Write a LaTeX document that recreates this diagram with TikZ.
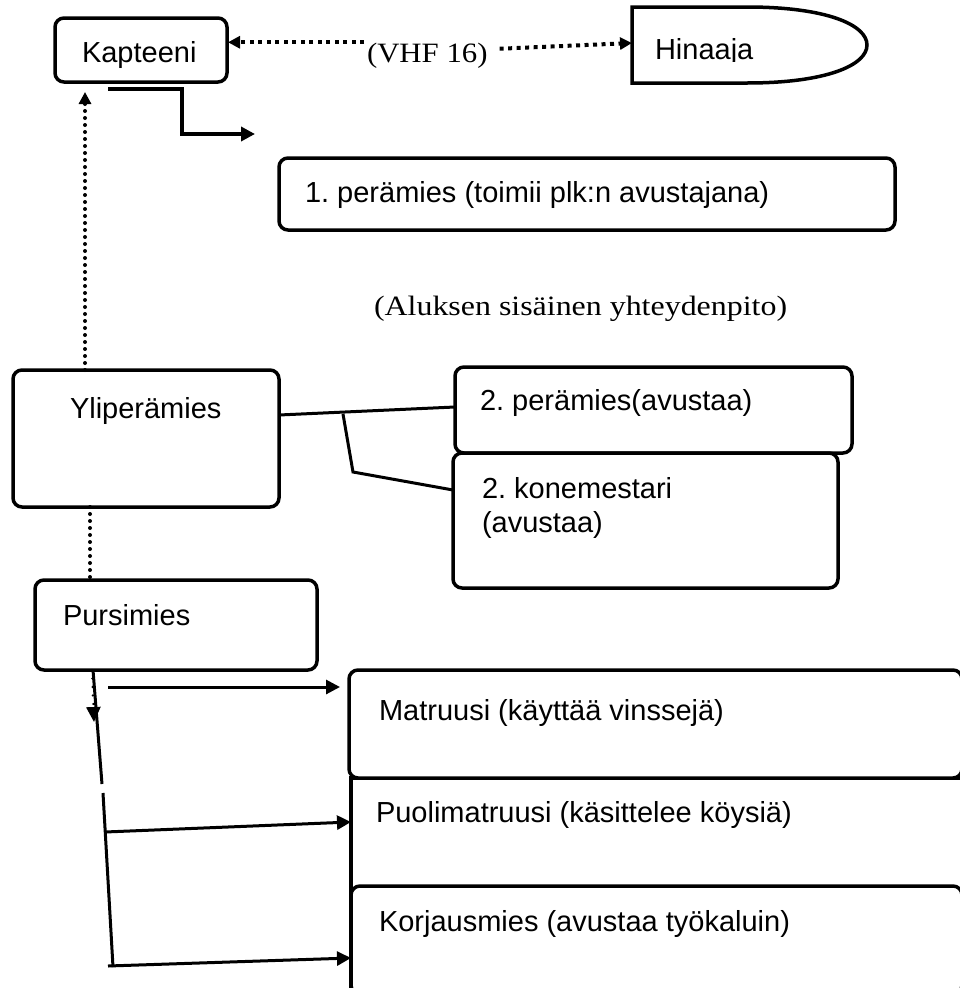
\documentclass[tikz,border=0pt]{standalone}
\usepackage{fontspec}
\setmainfont{Liberation Sans}
\newfontfamily\timesf{Liberation Serif}
\usetikzlibrary{arrows.meta}
\begin{document}
\frenchspacing
\begin{tikzpicture}[x=1pt,y=-1pt,
 every node/.style={inner sep=0pt, outer sep=0pt, font=\fontsize{29}{34}\selectfont},
 box/.style={draw, line width=3.5pt, rounded corners=9pt, fill=white, anchor=north west},
 sqbox/.style={draw, line width=3.5pt, fill=white, anchor=north west},
 txt/.style={anchor=base west},
 serif/.style={anchor=base west, font=\timesf\fontsize{28}{33}\selectfont},
 conn/.style={line width=3pt},
 arr/.style={-{Triangle[length=14pt,width=14pt]}},
 arrs/.style={-{Triangle[length=12pt,width=12pt]}},
 hdot/.style={line width=4pt, dash pattern=on 4pt off 4.5pt},
 vdot/.style={line width=4pt, line cap=round, dash pattern=on 0pt off 7pt},
]
\useasboundingbox (0,0) rectangle (960,988);

% ---- top row
\node[box, minimum width=172pt, minimum height=64pt] (kap) at (55,18) {};
\node[txt] (kapT) at (82,62) {Kapteeni};

\draw[line width=3.5pt] (632,7) -- (747,7) .. controls (827,7) and (867,25) .. (867,45)
  .. controls (867,65) and (827,83) .. (747,83) -- (632,83) -- cycle;
\coordinate (hinL) at (632,43);
\begin{scope}
\clip (632,7) rectangle (870,61);
\node[txt] (hin) at (655,59) {Hinaaja};
\end{scope}

\node[serif] (vhf) at (367,62) {\scalebox{1.1}[1]{(VHF 16)}};
\coordinate (v1) at ([yshift=13pt]vhf.west);
\coordinate (v2) at ([yshift=6pt]vhf.east);
\draw[hdot, arrs, shorten <=3pt, shorten >=1pt] (v1) -- (v1 -| kap.east);
\draw[hdot, arrs, shorten <=12pt] (v2) -- (hinL);

% elbow arrow below Kapteeni
\coordinate (e1) at (108,89);
\coordinate (e2) at (255,134);
\draw[line width=3.5pt, arr] (e1) -- ++(74,0) |- (e2);

% 1. peramies
\node[box, minimum width=616pt, minimum height=72pt] (p1) at (279,158) {};
\node[txt] (p1T) at (305,202) {1. perämies (toimii plk:n avustajana)};

\node[serif] (alu) at (374,315) {\scalebox{1.14}[1]{(Aluksen sisäinen yhteydenpito)}};

% Yliperamies group
\node[box, minimum width=266pt, minimum height=137pt] (yli) at (13,370) {};
\node[txt] (yliT) at (70,418) {Yliperämies};

\coordinate (kapB) at (85,82);
\draw[vdot, arrs, shorten >=10pt] (yli.north -| kapB) -- (kapB);

\node[box, minimum width=397pt, minimum height=86pt] (p2) at (455,367) {};
\node[txt] (p2T) at (480,410) {2. perämies(avustaa)};
\node[box, minimum width=385pt, minimum height=135pt] (kone) at (453,453) {};
\node[anchor=north west, align=left] (koneT) at (482,477) {2. konemestari\\(avustaa)};

\draw[conn] ([yshift=23.5pt]yli.east) -- ([yshift=3pt]p2.west);
\coordinate (b0) at (343,414);
\draw[conn] (b0) -- (353,472) -- ([yshift=30.5pt]kone.west);

% Pursimies
\node[box, minimum width=282pt, minimum height=90pt] (purs) at (35,580) {};
\node[txt] (pursT) at (63,625) {Pursimies};
\coordinate (dx) at (90,0);
\draw[vdot] (yli.south -| dx) -- (purs.north -| dx);

% bottom boxes
\node[sqbox, minimum width=620pt, minimum height=222pt] (puo) at (351,778) {};
\node[box, minimum width=613pt, minimum height=108pt] (mat) at (349,670) {};
\node[box, minimum width=611pt, minimum height=108pt] (kor) at (351,886) {};
\node[txt] (matT) at (379,720) {Matruusi (käyttää vinssejä)};
\node[txt] (puoT) at (376,822) {Puolimatruusi (käsittelee köysiä)};
\node[txt] (korT) at (379,931) {Korjausmies (avustaa työkaluin)};

% Pursimies connectors
\coordinate (dA) at (94,722);
\coordinate (sx) at (92,0);
\draw[line width=2.5pt, line cap=round, dash pattern=on 0pt off 8.5pt,
      -{Triangle[length=15pt,width=14pt]}] (purs.south -| sx) -- (dA);
\coordinate (s0) at (93,0);
\coordinate (s1) at (102,784);
\coordinate (s2) at (103,793);
\coordinate (s3) at (113,967);
\draw[conn] (purs.south -| s0) -- (s1);
\draw[conn] (s2) -- (s3);

\coordinate (a1) at (108,687);
\coordinate (a2) at (105,832);
\coordinate (a3) at (108,966);
\draw[conn, arr, shorten >=9pt] (a1) -- (a1 -| mat.west);
\draw[conn, arr] (a2) -- ([yshift=67pt]puo.west);
\draw[conn, arr] (a3) -- ([yshift=-18pt]kor.west);
\end{tikzpicture}
\end{document}
